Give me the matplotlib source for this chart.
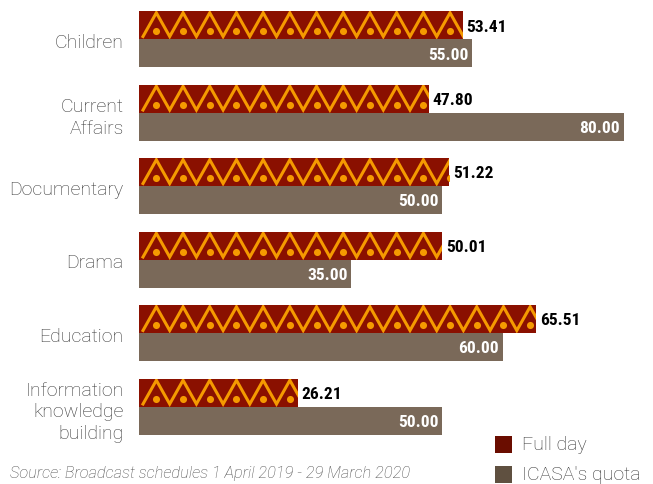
import matplotlib.pyplot as plt
from matplotlib.patches import Rectangle
import numpy as np

# =========================
# Data
# =========================
categories = ['Children', 'Current\nAffairs', 'Documentary', 'Drama',
              'Education', 'Information\nknowledge\nbuilding']
full_day = [53.41, 47.80, 51.22, 50.01, 65.51, 26.21]
icasa_quota = [55.00, 80.00, 50.00, 35.00, 60.00, 50.00]
series_names = ['Full day', "ICASA's quota"]
source_note = 'Source: Broadcast schedules 1 April 2019 - 29 March 2020'

# =========================
# Style
# =========================
RED = '#8a1000'
ORANGE = '#f59a00'
TAUPE = '#7a6959'
LEG_RED = '#6a0d00'
LEG_TAUPE = '#5f5040'
LABEL_FONT = ['Roboto', 'DejaVu Sans']
NUM_FONT = ['Liberation Sans Narrow', 'Roboto Condensed', 'Roboto', 'DejaVu Sans']

W, H = 653, 485
x0_px = 139          # left edge of the bars
px_per_unit = 6.06   # horizontal scale
group_gap = 73.5     # vertical distance between categories (px)
bar_h = 28           # bar thickness (px)
first_top = 12

fig = plt.figure(figsize=(W / 100, H / 100), dpi=100)
ax = fig.add_axes([x0_px / W, 0, 1 - x0_px / W, 1])
ax.set_xlim(0, (W - x0_px) / px_per_unit)
ax.set_ylim(H, 0)   # y measured in pixels from the top

idx = np.arange(len(categories))
top_full = first_top + group_gap * idx
top_quota = top_full + bar_h

bars_full = ax.barh(top_full, full_day, height=bar_h, align='edge',
                    color=RED, linewidth=0)
bars_quota = ax.barh(top_quota, icasa_quota, height=bar_h, align='edge',
                     color=TAUPE, linewidth=0)

# zigzag + dot pattern on the full-day bars
period = 26.7 / px_per_unit
phase = 4 / px_per_unit
for bar, top, val in zip(bars_full, top_full, full_day):
    n = int(val / period) + 2
    xs = phase + np.arange(2 * n + 1) * period / 2
    ys = np.where(np.arange(2 * n + 1) % 2 == 0, top + 25.5, top + 1.8)
    line, = ax.plot(xs, ys, color=ORANGE, lw=2.2, solid_joinstyle='miter',
                    zorder=3)
    line.set_clip_path(bar)
    dx = phase + period / 2 + np.arange(n) * period
    dots = ax.scatter(dx, np.full(n, top + 20), s=26, color=ORANGE,
                      linewidths=0, zorder=3)
    dots.set_clip_path(bar)

# value labels
for top, val in zip(top_full, full_day):
    ax.text(val + 0.6, top + bar_h / 2 + 1, '%.2f' % val, ha='left',
            va='center', fontsize=12.5, fontweight='bold', family=NUM_FONT,
            color='black')
for top, val in zip(top_quota, icasa_quota):
    ax.text(val - 0.6, top + bar_h / 2 + 1, '%.2f' % val, ha='right',
            va='center', fontsize=12.5, fontweight='bold', family=NUM_FONT,
            color='white')

# category labels
ax.set_yticks(top_full + bar_h + 1)
ax.set_yticklabels(categories, family=LABEL_FONT, fontweight='light',
                   fontsize=14, color='#363636', linespacing=1.27)
ax.tick_params(axis='y', length=0, pad=11)
ax.set_xticks([])
for s in ax.spines.values():
    s.set_visible(False)

# legend
leg_colors = [LEG_RED, LEG_TAUPE]
for i, (name, c) in enumerate(zip(series_names, leg_colors)):
    y_top = 437 + 30 * i
    fig.patches.append(Rectangle((495 / W, 1 - (y_top + 17) / H), 17 / W,
                                 17 / H, transform=fig.transFigure,
                                 color=c, lw=0))
    fig.text(522 / W, 1 - (y_top + 8) / H, name, ha='left', va='center',
             family=LABEL_FONT, fontweight='light', fontsize=14,
             color='#363636')

fig.text(10 / W, 1 - 474 / H, source_note, ha='left', va='center',
         family=LABEL_FONT, fontweight='light', style='italic',
         fontsize=11.8, color='#4a4a4a')

plt.savefig('out.png', dpi=100)
